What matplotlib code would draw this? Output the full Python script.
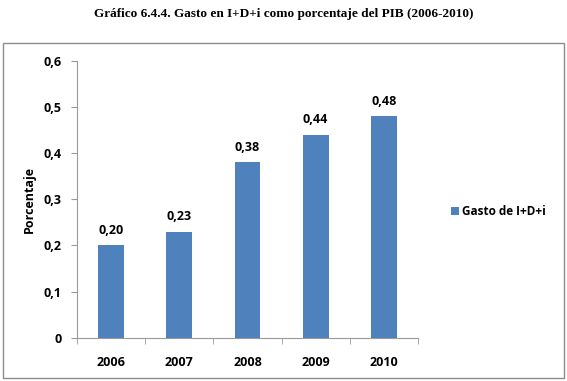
import matplotlib.pyplot as plt
from matplotlib.patches import Rectangle

years = ['2006', '2007', '2008', '2009', '2010']
gasto = [0.20, 0.23, 0.38, 0.44, 0.48]
y_ticks = [0, 0.1, 0.2, 0.3, 0.4, 0.5, 0.6]
y_tick_labels = ['0', '0,1', '0,2', '0,3', '0,4', '0,5', '0,6']

bar_color = '#4F81BD'
axis_color = '#999999'
font = ['Open Sans', 'DejaVu Sans']

fig = plt.figure(figsize=(5.67, 3.81), dpi=100)

# outer chart frame (behind the axes)
fig.patches.append(Rectangle((0.006, 0.008), 0.989, 0.879, transform=fig.transFigure,
                             facecolor='white', edgecolor='#8c8c8c', lw=1.0, zorder=-5))

fig.text(0.5, 0.962, 'Gráfico 6.4.4. Gasto en I+D+i como porcentaje del PIB (2006-2010)',
         ha='center', va='center', fontsize=9.5, fontweight='bold', family='Liberation Serif')

ax = fig.add_axes([0.136, 0.113, 0.601, 0.728])
ax.set_zorder(2)
ax.patch.set_alpha(0)
x = range(len(years))
ax.bar(x, gasto, width=0.38, color=bar_color, label='Gasto de I+D+i', zorder=3)

for xi, v in zip(x, gasto):
    ax.text(xi, v + 0.018, f'{v:.2f}'.replace('.', ','), ha='center', va='bottom',
            fontsize=9, fontweight='bold', family=font)

ax.set_xlim(-0.5, len(years) - 0.5)
ax.set_ylim(0, 0.6)
ax.set_yticks(y_ticks)
ax.set_yticklabels(y_tick_labels, fontsize=9, fontweight='bold', family=font)
ax.set_xticks(list(x))
ax.set_xticklabels(years, fontsize=9, fontweight='bold', family=font)
ax.set_xticks([i - 0.5 for i in range(len(years) + 1)], minor=True)
ax.tick_params(axis='x', which='major', length=0, pad=13)
ax.tick_params(axis='x', which='minor', length=4, color=axis_color)
ax.tick_params(axis='y', length=4, color=axis_color, pad=7)

for side in ['top', 'right']:
    ax.spines[side].set_visible(False)
for side in ['left', 'bottom']:
    ax.spines[side].set_color(axis_color)

ax.set_ylabel('Porcentaje', fontsize=9, fontweight='bold', family=font, labelpad=6)

ax.legend(loc='center left', bbox_to_anchor=(1.065, 0.455), frameon=False,
          handlelength=0.7, handleheight=0.7, handletextpad=0.3,
          prop={'family': font, 'weight': 'bold', 'size': 8.5})

fig.savefig('out.png', dpi=100)
